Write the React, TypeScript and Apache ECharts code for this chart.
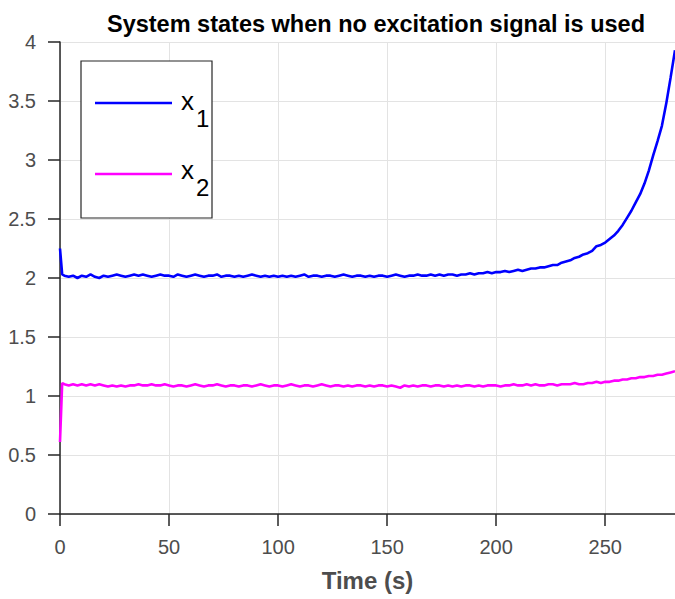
import { useEffect, useRef } from "react";
import * as echarts from "echarts";

const chartTitle = "System states when no excitation signal is used";
const xAxisName = "Time (s)";

const time = [
  0, 1,
  2, 4, 6, 8, 10, 12, 14, 16, 18, 20,
  22, 24, 26, 28, 30, 32, 34, 36, 38, 40,
  42, 44, 46, 48, 50, 52, 54, 56, 58, 60,
  62, 64, 66, 68, 70, 72, 74, 76, 78, 80,
  82, 84, 86, 88, 90, 92, 94, 96, 98, 100,
  102, 104, 106, 108, 110, 112, 114, 116, 118, 120,
  122, 124, 126, 128, 130, 132, 134, 136, 138, 140,
  142, 144, 146, 148, 150, 152, 154, 156, 158, 160,
  162, 164, 166, 168, 170, 172, 174, 176, 178, 180,
  182, 184, 186, 188, 190, 192, 194, 196, 198, 200,
  202, 204, 206, 208, 210, 212, 214, 216, 218, 220,
  222, 224, 226, 228, 230, 232, 234, 236, 238, 240,
  242, 244, 246, 248, 250, 252, 254, 256, 258, 260,
  262, 264, 266, 268, 270, 272, 274, 276, 278, 280,
  282,
];

const x1 = [
  2.25, 2.03,
  2.02, 2.01, 2.02, 2.0, 2.02, 2.01, 2.03, 2.01, 2.0, 2.02,
  2.01, 2.02, 2.03, 2.02, 2.01, 2.02, 2.03, 2.02, 2.03, 2.02,
  2.01, 2.02, 2.03, 2.02, 2.02, 2.01, 2.03, 2.02, 2.01, 2.02,
  2.03, 2.02, 2.01, 2.02, 2.02, 2.03, 2.01, 2.02, 2.02, 2.01,
  2.02, 2.01, 2.02, 2.03, 2.02, 2.01, 2.02, 2.01, 2.02, 2.01,
  2.02, 2.01, 2.02, 2.01, 2.02, 2.03, 2.01, 2.02, 2.02, 2.01,
  2.02, 2.02, 2.01, 2.02, 2.03, 2.02, 2.01, 2.02, 2.02, 2.01,
  2.02, 2.01, 2.02, 2.02, 2.01, 2.02, 2.03, 2.02, 2.01, 2.02,
  2.02, 2.03, 2.02, 2.02, 2.03, 2.02, 2.03, 2.02, 2.03, 2.03,
  2.02, 2.03, 2.03, 2.04, 2.03, 2.04, 2.04, 2.05, 2.04, 2.05,
  2.05, 2.06, 2.05, 2.06, 2.07, 2.06, 2.07, 2.08, 2.08, 2.09,
  2.09, 2.1, 2.11, 2.11, 2.13, 2.14, 2.15, 2.17, 2.18, 2.2,
  2.21, 2.23, 2.27, 2.28, 2.3, 2.33, 2.36, 2.4, 2.45, 2.51,
  2.57, 2.64, 2.71, 2.8, 2.91, 3.04, 3.16, 3.29, 3.48, 3.7,
  3.93,
];

const x2 = [
  0.61, 1.11,
  1.1, 1.09, 1.1, 1.09, 1.1, 1.09, 1.1, 1.09, 1.1, 1.09,
  1.08, 1.09, 1.08, 1.09, 1.08, 1.09, 1.09, 1.1, 1.09, 1.09,
  1.1, 1.09, 1.09, 1.1, 1.09, 1.08, 1.09, 1.09, 1.08, 1.09,
  1.1, 1.09, 1.08, 1.09, 1.09, 1.1, 1.09, 1.08, 1.09, 1.09,
  1.08, 1.09, 1.09, 1.08, 1.09, 1.1, 1.09, 1.08, 1.09, 1.09,
  1.08, 1.09, 1.1, 1.09, 1.08, 1.09, 1.09, 1.08, 1.09, 1.1,
  1.09, 1.08, 1.09, 1.09, 1.08, 1.09, 1.08, 1.09, 1.09, 1.08,
  1.09, 1.08, 1.09, 1.09, 1.08, 1.09, 1.08, 1.07, 1.09, 1.08,
  1.09, 1.08, 1.09, 1.09, 1.08, 1.09, 1.09, 1.08, 1.09, 1.08,
  1.09, 1.08, 1.09, 1.09, 1.08, 1.09, 1.08, 1.09, 1.09, 1.09,
  1.08, 1.09, 1.09, 1.1, 1.09, 1.09, 1.1, 1.09, 1.1, 1.09,
  1.09, 1.1, 1.1, 1.09, 1.1, 1.1, 1.1, 1.11, 1.1, 1.1,
  1.11, 1.11, 1.12, 1.11, 1.12, 1.12, 1.13, 1.13, 1.14, 1.14,
  1.15, 1.15, 1.16, 1.16, 1.17, 1.17, 1.18, 1.18, 1.19, 1.2,
  1.21,
];

const seriesNames = ["x1", "x2"];
const seriesColors = ["#0000ff", "#ff00ff"];

const FONT = "'Liberation Sans', Arial, Helvetica, sans-serif";
const AXIS = "#262626";
const LABEL = "#4d4d4d";
const GRID = "#e3e3e3";

export default function App() {
  const ref = useRef<HTMLDivElement>(null);

  useEffect(() => {
    if (!ref.current) return;
    const chart = echarts.init(ref.current, null, { renderer: "svg" });
    const legendText = (x: number, y: number, main: string, sub: string) => [
      {
        type: "text",
        x,
        y,
        z: 101,
        style: {
          text: main,
          fontFamily: FONT,
          fontSize: 26,
          fill: "#000",
          verticalAlign: "middle",
          align: "left",
        },
      },
      {
        type: "text",
        x: x + 15,
        y: y + 17,
        z: 101,
        style: {
          text: sub,
          fontFamily: FONT,
          fontSize: 24,
          fill: "#000",
          verticalAlign: "middle",
          align: "left",
        },
      },
    ];

    chart.setOption({
      animation: false,
      backgroundColor: "#ffffff",
      title: {
        text: chartTitle,
        left: 371,
        top: 7,
        textAlign: "center",
        textStyle: {
          fontFamily: FONT,
          fontWeight: "bold",
          fontSize: 23.5,
          color: "#000",
        },
      },
      grid: { left: 60, right: 0, top: 42, bottom: 85 },
      xAxis: {
        type: "value",
        min: 0,
        max: 282,
        interval: 50,
        name: xAxisName,
        nameLocation: "middle",
        nameGap: 54,
        nameTextStyle: {
          fontFamily: FONT,
          fontWeight: "bold",
          fontSize: 24,
          color: LABEL,
        },
        axisLine: { show: true, onZero: false, lineStyle: { color: AXIS, width: 1.5 } },
        axisTick: { show: true, inside: false, length: 12, lineStyle: { color: AXIS, width: 1.5 } },
        axisLabel: {
          margin: 23,
          showMaxLabel: false,
          fontFamily: FONT,
          fontSize: 20,
          color: LABEL,
        },
        splitLine: { show: true, lineStyle: { color: GRID, width: 1 } },
      },
      yAxis: {
        type: "value",
        min: 0,
        max: 4,
        interval: 0.5,
        axisLine: { show: true, lineStyle: { color: AXIS, width: 1.5 } },
        axisTick: { show: true, inside: false, length: 12, lineStyle: { color: AXIS, width: 1.5 } },
        axisLabel: {
          margin: 24,
          fontFamily: FONT,
          fontSize: 20,
          color: LABEL,
        },
        splitLine: { show: true, lineStyle: { color: GRID, width: 1 } },
      },
      series: [
        {
          name: seriesNames[0],
          type: "line",
          showSymbol: false,
          symbol: "none",
          clip: true,
          data: time.map((t, i) => [t, x1[i]]),
          lineStyle: { color: seriesColors[0], width: 2.6 },
          itemStyle: { color: seriesColors[0] },
        },
        {
          name: seriesNames[1],
          type: "line",
          showSymbol: false,
          symbol: "none",
          clip: true,
          data: time.map((t, i) => [t, x2[i]]),
          lineStyle: { color: seriesColors[1], width: 2.6 },
          itemStyle: { color: seriesColors[1] },
        },
      ],
      graphic: [
        {
          type: "rect",
          shape: { x: 81, y: 61, width: 131, height: 157 },
          style: { fill: "#fff", stroke: AXIS, lineWidth: 1.2 },
          z: 100,
        },
        {
          type: "line",
          shape: { x1: 95, y1: 103, x2: 172, y2: 103 },
          style: { stroke: seriesColors[0], lineWidth: 2.6 },
          z: 101,
        },
        {
          type: "line",
          shape: { x1: 95, y1: 174, x2: 172, y2: 174 },
          style: { stroke: seriesColors[1], lineWidth: 2.6 },
          z: 101,
        },
        ...legendText(181, 101, "x", "1"),
        ...legendText(181, 170, "x", "2"),
      ],
    });
    return () => chart.dispose();
  }, []);

  return (
    <div
      ref={ref}
      style={{ position: "fixed", left: 0, top: 0, width: 675, height: 599 }}
    />
  );
}
